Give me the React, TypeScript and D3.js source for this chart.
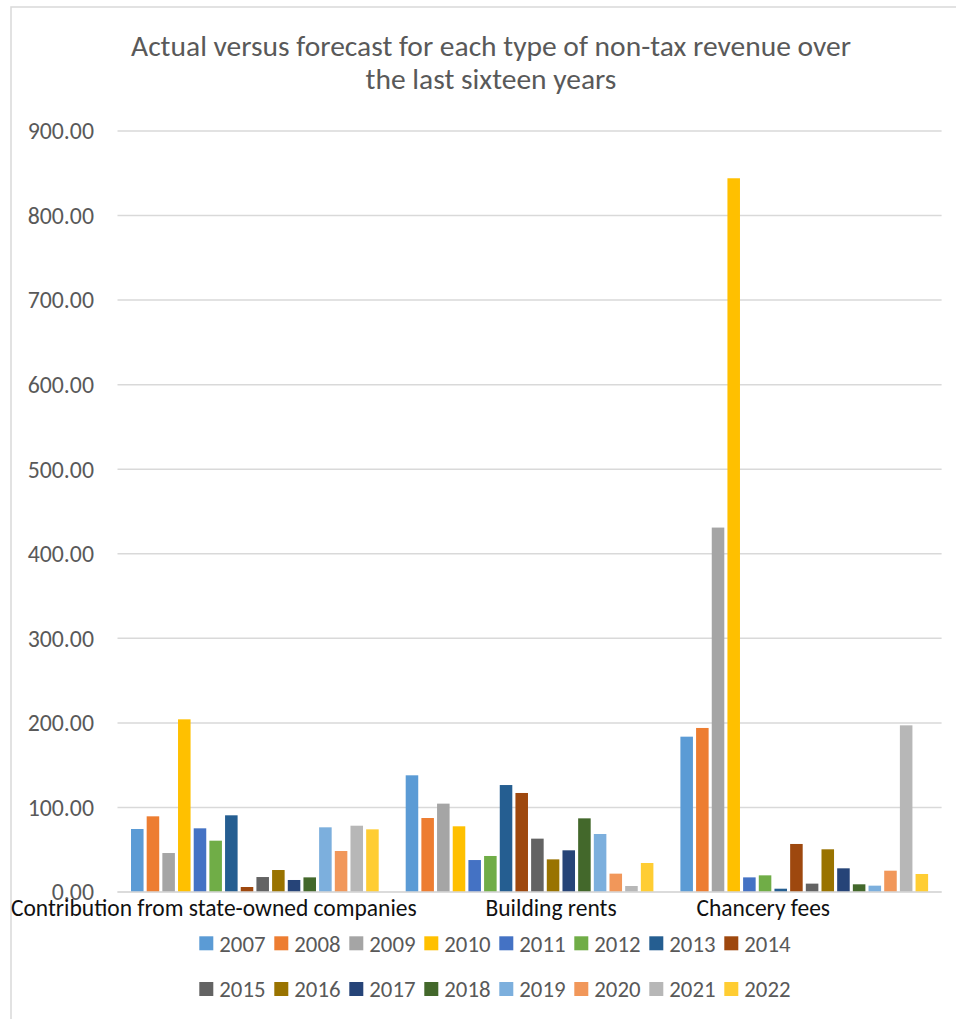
import React from "react";
import * as d3 from "d3";

const categories = ["Contribution from state-owned companies", "Building rents", "Chancery fees"];
const years = ["2007","2008","2009","2010","2011","2012","2013","2014","2015","2016","2017","2018","2019","2020","2021","2022"];
const stateOwned = [74.5, 89.5, 46.1, 204.2, 75.3, 60.7, 90.7, 5.9, 17.7, 26.0, 14.2, 17.3, 76.5, 48.5, 78.4, 74.1];
const buildingRents = [138.0, 87.5, 104.5, 77.7, 37.8, 42.6, 126.5, 117.1, 63.1, 38.6, 49.3, 87.1, 68.6, 21.7, 7.1, 34.3];
const chanceryFees = [183.7, 194.0, 431.0, 844.1, 17.3, 19.7, 3.9, 56.8, 9.9, 50.5, 28.0, 9.1, 7.5, 25.2, 197.1, 21.3];
const seriesValues = [stateOwned, buildingRents, chanceryFees];
const yTicks = [0, 100, 200, 300, 400, 500, 600, 700, 800, 900];
const colors = ["#5B9BD5","#ED7D31","#A5A5A5","#FFC000","#4472C4","#70AD47","#255E91","#9E480E","#636363","#997300","#264478","#43682B","#7CAFDD","#F1975A","#B7B7B7","#FFCD33"];
const titleLines = ["Actual versus forecast for each type of non-tax revenue over", "the last sixteen years"];

// layout (not data)
const W = 956, H = 1019;
const plot = { left: 117.5, right: 941.6, top: 131, bottom: 892 };
const labelShift = [-41, 21.5, -41];
const FONT = "Carlito, Lato, 'Open Sans', sans-serif";

export default function App() {
  const x0 = d3.scaleBand().domain(categories).range([plot.left, plot.right]).padding(0);
  const bw = x0.bandwidth();
  const x1 = d3.scaleBand().domain(years).range([13.5, bw - 13.5]).paddingInner(0.2).paddingOuter(0);
  const y = d3.scaleLinear().domain([0, 900]).range([plot.bottom, plot.top]);

  const legendRows = [years.slice(0, 8), years.slice(8)];
  const legendX = d3.scaleBand().domain(d3.range(8).map(String)).range([199.3, 199.3 + 8 * 75]).padding(0);
  const legendY = [943.3, 989];

  return (
    <svg width={W} height={H} style={{ position: "absolute", left: 0, top: 0, background: "#fff" }} fontFamily={FONT}>
      <rect x={11} y={7} width={1000} height={1100} fill="#fff" stroke="#d9d9d9" strokeWidth={1.5} />
      {titleLines.map((t, i) => (
        <text key={t} x={491} y={56 + i * 33} textAnchor="middle" fontSize={29.5} fill="#595959">{t}</text>
      ))}
      {yTicks.map((t) => (
        <g key={t}>
          <line x1={plot.left} x2={plot.right} y1={y(t)} y2={y(t)} stroke="#d9d9d9" strokeWidth={1.5} />
          <text x={94} y={y(t)} dy="0.35em" textAnchor="end" fontSize={23.8} fill="#595959">{d3.format(".2f")(t)}</text>
        </g>
      ))}
      {categories.map((c, ci) => (
        <g key={c} transform={`translate(${x0(c)},0)`}>
          {years.map((yr, yi) => (
            <rect key={yr} x={x1(yr)} width={x1.bandwidth()} y={y(seriesValues[ci][yi])}
              height={y(0) - y(seriesValues[ci][yi])} fill={colors[yi]} />
          ))}
        </g>
      ))}
      <line x1={plot.left} x2={plot.right} y1={y(0)} y2={y(0)} stroke="#d9d9d9" strokeWidth={1.5} />
      {categories.map((c, ci) => (
        <text key={c} x={(x0(c) as number) + bw / 2 + labelShift[ci]} y={916} textAnchor="middle" fontSize={23.5} fill="#111">{c}</text>
      ))}
      {legendRows.map((row, ri) => row.map((yr, i) => {
        const lx = legendX(String(i)) as number;
        const idx = years.indexOf(yr);
        return (
          <g key={yr}>
            <rect x={lx} y={legendY[ri] - 7} width={14} height={14} fill={colors[idx]} />
            <text x={lx + 20} y={legendY[ri]} dy="0.36em" fontSize={22.8} fill="#595959">{yr}</text>
          </g>
        );
      }))}
    </svg>
  );
}
